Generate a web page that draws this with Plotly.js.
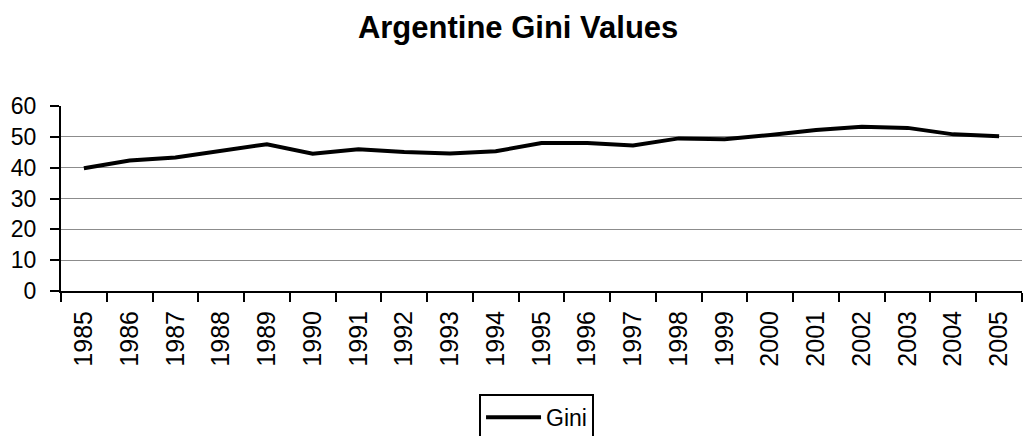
<!DOCTYPE html>
<html>
<head>
<meta charset="utf-8">
<script src="https://cdn.plot.ly/plotly-3.0.1.min.js"></script>
<style>
  html, body { margin: 0; padding: 0; background: #ffffff; }
  #chart { width: 1024px; height: 436px; }
</style>
</head>
<body>
<div id="chart"></div>
<script>
// Argentine Gini coefficient by year
const years = ["1985", "1986", "1987", "1988", "1989", "1990", "1991", "1992", "1993", "1994", "1995",
               "1996", "1997", "1998", "1999", "2000", "2001", "2002", "2003", "2004", "2005"];
const giniValues = [39.8, 42.3, 43.3, 45.4, 47.6, 44.5, 46.0, 45.1, 44.6, 45.3, 48.0,
                    48.0, 47.2, 49.5, 49.2, 50.6, 52.2, 53.3, 52.9, 50.8, 50.2];
const yTicks = [0, 10, 20, 30, 40, 50, 60];

const font = "Arial, 'Liberation Sans', Helvetica, sans-serif";

const traces = [{
  type: "scatter",
  mode: "lines",
  name: "Gini",
  x: years,
  y: giniValues,
  line: { color: "#000000", width: 4 }
}];

const layout = {
  width: 1024,
  height: 436,
  paper_bgcolor: "#ffffff",
  plot_bgcolor: "#ffffff",
  margin: { l: 61, r: 2, t: 106, b: 145, autoexpand: false },
  font: { family: font, color: "#000000" },
  title: {
    text: "<b>Argentine Gini Values</b>",
    font: { family: font, size: 31, color: "#000000" },
    x: 0.506, xanchor: "center",
    y: 0.938, yanchor: "middle"
  },
  xaxis: {
    type: "category",
    range: [-0.5, years.length - 0.5],
    tickson: "boundaries",
    ticks: "outside",
    ticklen: 9,
    tickwidth: 2,
    tickcolor: "#000000",
    tickangle: -90,
    tickfont: { family: font, size: 25, color: "#000000" },
    ticklabelstandoff: 8,
    showline: true,
    linecolor: "#000000",
    linewidth: 2,
    showgrid: false,
    zeroline: false,
    fixedrange: true
  },
  yaxis: {
    range: [0, 60],
    tickmode: "array",
    tickvals: yTicks,
    ticktext: yTicks.map(String),
    ticks: "outside",
    ticklen: 9,
    tickwidth: 2,
    tickcolor: "#000000",
    tickfont: { family: font, size: 23, color: "#000000" },
    ticklabelstandoff: 9,
    showline: true,
    linecolor: "#000000",
    linewidth: 2,
    showgrid: true,
    gridcolor: "#8c8c8c",
    gridwidth: 1,
    zeroline: false,
    fixedrange: true
  },
  showlegend: true,
  legend: {
    x: 0.435, xanchor: "left", xref: "paper",
    y: -0.556, yanchor: "top", yref: "paper",
    bgcolor: "#ffffff",
    bordercolor: "#000000",
    borderwidth: 2,
    itemwidth: 55,
    font: { family: font, size: 23, color: "#000000" }
  }
};

Plotly.newPlot("chart", traces, layout, { displayModeBar: false, staticPlot: true });
</script>
</body>
</html>
